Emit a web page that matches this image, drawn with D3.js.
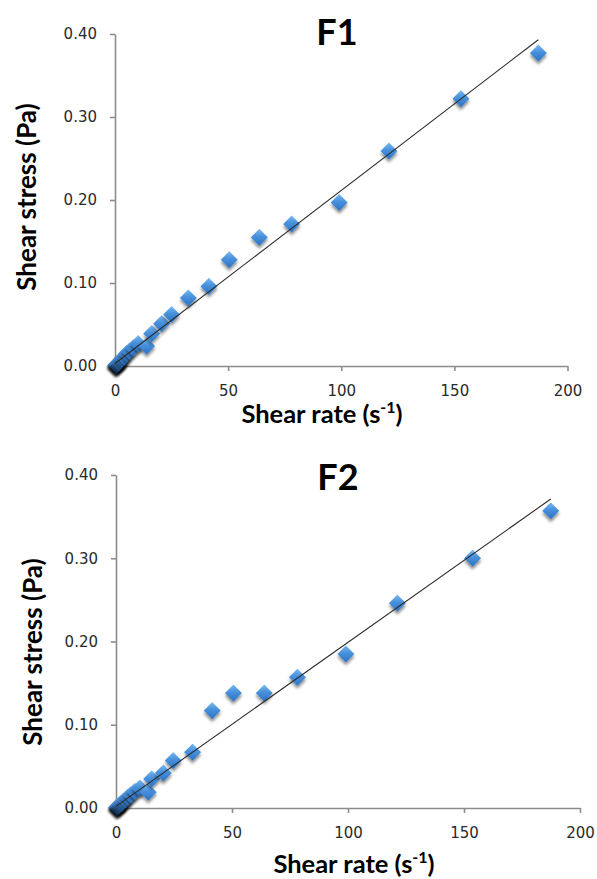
<!DOCTYPE html>
<html>
<head>
<meta charset="utf-8">
<script src="https://cdn.jsdelivr.net/npm/d3@7"></script>
<style>
  body { margin: 0; background: #ffffff; }
</style>
</head>
<body>
<div id="chart"></div>
<script>
// shear rate (1/s) and shear stress (Pa)
var rateF1 = [187.1, 152.9, 121.1, 99.1, 78.1, 63.8, 50.5, 41.5, 32.4, 25.0, 20.6, 16.2, 14.0, 10.3, 8.1, 6.4, 5.1, 4.1, 3.2, 2.6, 2.0, 1.6, 1.3, 1.0, 0.8, 0.6, 0.5, 0.4, 0.3];
var stressF1 = [0.377, 0.322, 0.259, 0.197, 0.171, 0.155, 0.128, 0.096, 0.082, 0.062, 0.051, 0.039, 0.024, 0.027, 0.022, 0.018, 0.015, 0.011, 0.009, 0.007, 0.005, 0.004, 0.003, 0.002, 0.002, 0.001, 0.001, 0.001, 0.000];

var rateF2 = [187.4, 153.7, 121.3, 99.1, 78.2, 63.9, 50.6, 41.5, 33.0, 24.7, 20.4, 15.4, 13.9, 10.3, 8.1, 6.4, 5.1, 4.1, 3.2, 2.6, 2.0, 1.6, 1.3, 1.0, 0.8, 0.6, 0.5, 0.4, 0.3];
var stressF2 = [0.357, 0.300, 0.246, 0.185, 0.157, 0.138, 0.138, 0.117, 0.067, 0.057, 0.042, 0.035, 0.019, 0.024, 0.020, 0.016, 0.013, 0.010, 0.008, 0.006, 0.005, 0.004, 0.003, 0.002, 0.002, 0.001, 0.001, 0.001, 0.000];

// linear trend lines: [slope, intercept]
var fitF1 = [0.002085, 0.003];
var fitF2 = [0.00197, 0.002];

var xTicks = [0, 50, 100, 150, 200];
var yTicks = [0, 0.1, 0.2, 0.3, 0.4];

var width = 597,
  height = 879;

var svg = d3.select("#chart")
  .append("svg")
  .attr("width", width)
  .attr("height", height);

var defs = svg.append("defs");

var grad = defs.append("linearGradient")
  .attr("id", "markerFill")
  .attr("x1", 0).attr("y1", 0)
  .attr("x2", 1).attr("y2", 1);
grad.append("stop").attr("offset", "0%").attr("stop-color", "#78b8f0");
grad.append("stop").attr("offset", "45%").attr("stop-color", "#4890dc");
grad.append("stop").attr("offset", "100%").attr("stop-color", "#2c72c2");

defs.append("filter")
  .attr("id", "shadow")
  .attr("x", "-50%").attr("y", "-50%")
  .attr("width", "200%").attr("height", "200%")
  .append("feDropShadow")
  .attr("dx", 2).attr("dy", 2)
  .attr("stdDeviation", 1.4)
  .attr("flood-color", "#000")
  .attr("flood-opacity", 0.45);

function drawPanel(cfg) {
  var g = svg.append("g");

  var x = d3.scaleLinear().domain([0, 200]).range([cfg.left, cfg.right]);
  var y = d3.scaleLinear().domain([0, 0.4]).range([cfg.bottom, cfg.top]);

  var yAxis = g.append("g")
    .attr("transform", "translate(" + cfg.left + ",0)")
    .call(d3.axisLeft(y).tickValues(yTicks).tickFormat(d3.format(".2f"))
      .tickSize(5).tickSizeOuter(0).tickPadding(13));

  var xAxis = g.append("g")
    .attr("transform", "translate(0," + cfg.bottom + ")")
    .call(d3.axisBottom(x).tickValues(xTicks).tickFormat(d3.format("d"))
      .tickSize(5).tickSizeOuter(0).tickPadding(14));

  [yAxis, xAxis].forEach(function(a) {
    a.select(".domain").attr("stroke", "#8c8c8c").attr("stroke-width", 1.6);
    a.selectAll(".tick line").attr("stroke", "#8c8c8c").attr("stroke-width", 1.6);
    a.selectAll(".tick text")
      .attr("fill", "#2a2a2a")
      .style("font-family", '"DejaVu Sans", Verdana, sans-serif')
      .style("font-size", "15px");
  });

  var points = cfg.rate.map(function(r, i) {
    return { rate: r, stress: cfg.stress[i] };
  });

  // draw smallest first so the big ones sit on top
  points.reverse();

  g.selectAll(".point")
    .data(points)
    .enter().append("path")
    .attr("class", "point")
    .attr("d", d3.symbol().type(d3.symbolSquare).size(144))
    .attr("transform", function(d) {
      return "translate(" + x(d.rate) + "," + y(d.stress) + ") rotate(45)";
    })
    .attr("fill", "url(#markerFill)")
    .attr("filter", "url(#shadow)");

  var maxRate = d3.max(cfg.rate);
  g.append("line")
    .attr("x1", x(0))
    .attr("y1", y(cfg.fit[1]))
    .attr("x2", x(maxRate))
    .attr("y2", y(cfg.fit[0] * maxRate + cfg.fit[1]))
    .attr("stroke", "#2b2b2b")
    .attr("stroke-width", 1.1);

  g.append("text")
    .attr("x", cfg.titleX)
    .attr("y", cfg.titleY)
    .attr("text-anchor", "middle")
    .style("font-family", "Lato, sans-serif")
    .style("font-weight", "bold")
    .style("font-size", "36px")
    .attr("fill", "#000")
    .text(cfg.title);

  var xt = g.append("text")
    .attr("x", cfg.xTitleX)
    .attr("y", cfg.xTitleY)
    .attr("text-anchor", "middle")
    .style("font-family", "Lato, sans-serif")
    .style("font-weight", "bold")
    .style("font-size", "25.5px")
    .attr("fill", "#000");
  xt.append("tspan").text("Shear rate (s");
  xt.append("tspan").attr("dy", -10).style("font-size", "16px").text("-1");
  xt.append("tspan").attr("dy", 10).text(")");

  g.append("text")
    .attr("transform", "translate(" + cfg.yTitleX + "," + cfg.yTitleY + ") rotate(-90)")
    .attr("text-anchor", "middle")
    .style("font-family", "Lato, sans-serif")
    .style("font-weight", "bold")
    .style("font-size", "26px")
    .attr("fill", "#000")
    .text("Shear stress (Pa)");
}

drawPanel({
  title: "F1", rate: rateF1, stress: stressF1, fit: fitF1,
  left: 115, right: 567.5, top: 34, bottom: 366,
  titleX: 337, titleY: 45,
  xTitleX: 322, xTitleY: 423,
  yTitleX: 36, yTitleY: 197
});

drawPanel({
  title: "F2", rate: rateF2, stress: stressF2, fit: fitF2,
  left: 116, right: 580, top: 475, bottom: 808,
  titleX: 338, titleY: 490,
  xTitleX: 354, xTitleY: 873,
  yTitleX: 42, yTitleY: 652
});
</script>
</body>
</html>
